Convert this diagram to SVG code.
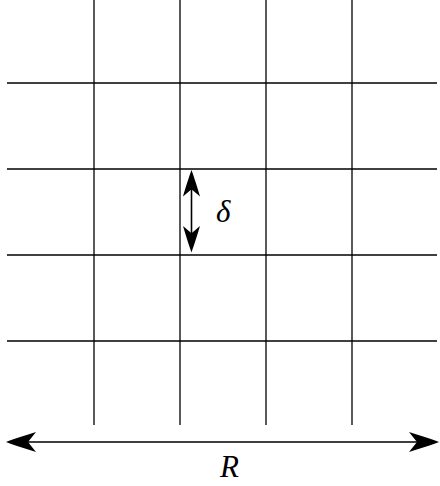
<svg xmlns="http://www.w3.org/2000/svg" width="440" height="486" viewBox="0 0 440 486">
<style>
.grid line{stroke:#000;stroke-width:1.3;fill:none}
.conn line{stroke:#000;stroke-width:1.6}
.head{fill:#000}
.lbl{font-family:"Liberation Serif","DejaVu Serif",serif;font-style:italic;font-size:31px;fill:#000}
</style>
<defs>
<path id="head" class="head" d="M0,0 C-8,-3 -20,-7 -30,-10 L-22,0 L-30,10 C-20,7 -8,3 0,0 Z"/>
</defs>
<g id="grid" class="grid">
<line x1="94" y1="0" x2="94" y2="425"/>
<line x1="180" y1="0" x2="180" y2="425"/>
<line x1="266" y1="0" x2="266" y2="425"/>
<line x1="352" y1="0" x2="352" y2="425"/>
<line x1="7" y1="83" x2="437" y2="83"/>
<line x1="7" y1="169" x2="437" y2="169"/>
<line x1="7" y1="255" x2="437" y2="255"/>
<line x1="7" y1="341" x2="437" y2="341"/>
</g>
<g id="connectors" class="conn">
<g id="delta-arrow">
<line x1="191.5" y1="185" x2="191.5" y2="237"/>
<use href="#head" transform="translate(191.5,170) rotate(-90) scale(0.88,0.85)"/>
<use href="#head" transform="translate(191.5,252.5) rotate(90) scale(0.88,0.85)"/>
</g>
<g id="R-arrow">
<line x1="25" y1="442" x2="420" y2="442"/>
<use href="#head" transform="translate(6,442) rotate(180)"/>
<use href="#head" transform="translate(439,442)"/>
</g>
</g>
<g id="labels">
<text class="lbl" x="216" y="222">δ</text>
<text class="lbl" x="220" y="477">R</text>
</g>
</svg>
